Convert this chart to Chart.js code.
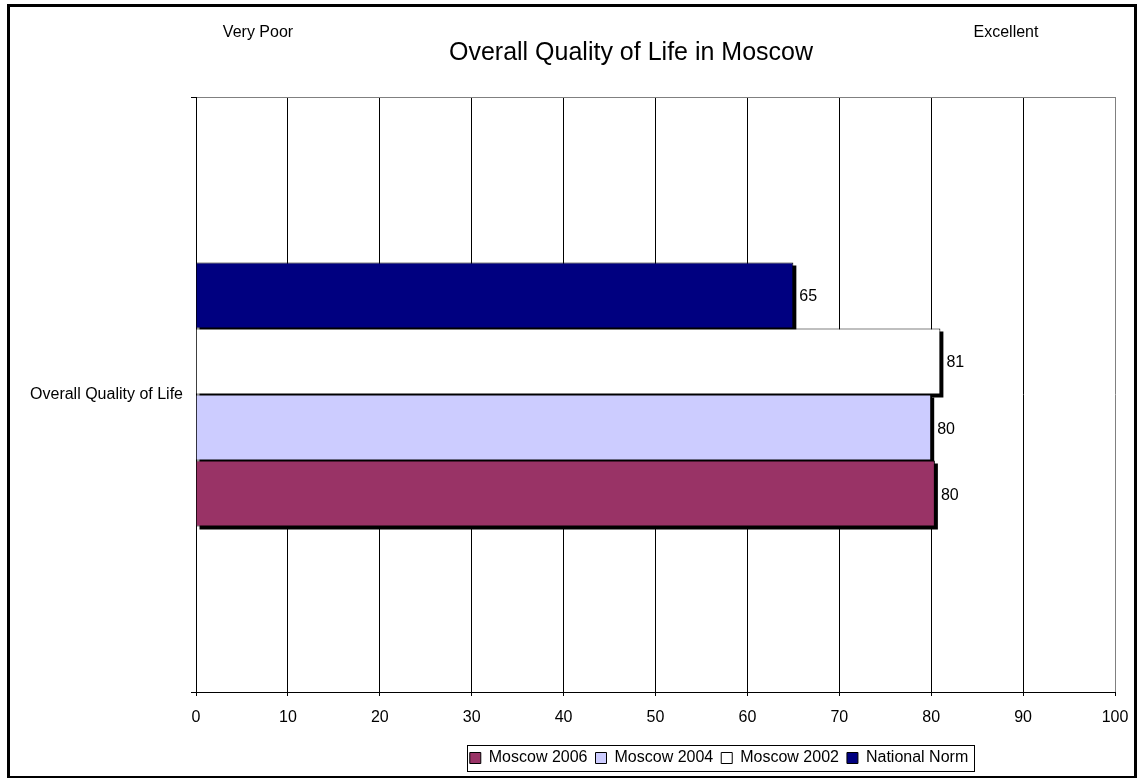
<!DOCTYPE html>
<html>
<head>
<meta charset="utf-8">
<title>Overall Quality of Life in Moscow</title>
<script src="https://cdn.jsdelivr.net/npm/chart.js@4.4.1/dist/chart.umd.min.js"></script>
<style>
  body { margin: 0; background: #ffffff; }
  canvas { display: block; }
</style>
</head>
<body>
<canvas id="qolChart" width="1137" height="778"></canvas>
<script>
const qolCanvas = document.getElementById("qolChart");

// data
const categories = ["Overall Quality of Life"];
const nationalNorm = [65];
const moscow2002 = [81];
const moscow2004 = [80];
const moscow2006 = [80.4];
const xTickValues = [0, 10, 20, 30, 40, 50, 60, 70, 80, 90, 100];

const titleText = "Overall Quality of Life in Moscow";
const lowEndText = "Very Poor";
const highEndText = "Excellent";

Chart.defaults.font.family = "'Liberation Sans', Arial, sans-serif";
Chart.defaults.font.size = 16;
Chart.defaults.color = "#000000";

const outlineColor = "#000000";
const frameGrey = "#808080";
const shadowOffset = 3;

// black drop shadow behind every bar (Excel style)
const barShadow = {
  id: "barShadow",
  beforeDatasetsDraw(chart) {
    const ctx = chart.ctx;
    ctx.save();
    ctx.fillStyle = "#000000";
    chart.data.datasets.forEach((ds, i) => {
      chart.getDatasetMeta(i).data.forEach((bar) => {
        const top = bar.y - bar.height / 2;
        ctx.fillRect(bar.base + shadowOffset, top + shadowOffset, bar.x - bar.base, bar.height);
      });
    });
    ctx.restore();
  },
};

// value printed right of each bar
const valueLabels = {
  id: "valueLabels",
  afterDatasetsDraw(chart) {
    const ctx = chart.ctx;
    ctx.save();
    ctx.font = "16px 'Liberation Sans', Arial, sans-serif";
    ctx.fillStyle = "#000000";
    ctx.textAlign = "left";
    ctx.textBaseline = "alphabetic";
    chart.data.datasets.forEach((ds, i) => {
      chart.getDatasetMeta(i).data.forEach((bar, j) => {
        ctx.fillText(String(Math.round(ds.data[j])), bar.x + 6, bar.y + 6);
      });
    });
    ctx.restore();
  },
};

// title, end captions, legend frame and outer frame
const decorations = {
  id: "decorations",
  afterLayout(chart) {
    // legend sits right of centre in the original
    const lg = chart.legend;
    if (!lg) return;
    const shift = 719 - (lg.left + lg.right) / 2;
    lg.left += shift;
    lg.right += shift;
  },
  afterDraw(chart) {
    const ctx = chart.ctx;
    ctx.save();
    ctx.fillStyle = "#000000";
    ctx.textBaseline = "alphabetic";
    ctx.textAlign = "center";
    ctx.font = "25px 'Liberation Sans', Arial, sans-serif";
    ctx.fillText(titleText, 631, 60);
    ctx.font = "16px 'Liberation Sans', Arial, sans-serif";
    ctx.fillText(lowEndText, 258, 37);
    ctx.fillText(highEndText, 1006, 37);

    // box round the legend
    const hb = chart.legend.legendHitBoxes;
    if (hb && hb.length) {
      const l = Math.min(...hb.map((h) => h.left)) - 3;
      const r = Math.max(...hb.map((h) => h.left + h.width)) + 6;
      const cy = hb[0].top + hb[0].height / 2;
      ctx.strokeStyle = "#000000";
      ctx.lineWidth = 1;
      ctx.strokeRect(Math.round(l) + 0.5, Math.round(cy - 13) + 0.5, Math.round(r - l), 26);
    }

    // outer chart frame
    ctx.lineWidth = 3;
    ctx.strokeStyle = "#000000";
    ctx.strokeRect(8.5, 5.5, 1127, 772);
    ctx.restore();
  },
};

const qolChart = new Chart(qolCanvas, {
  type: "bar",
  data: {
    labels: categories,
    datasets: [
      {
        label: "National Norm",
        data: nationalNorm,
        backgroundColor: "#000080",
        borderColor: outlineColor,
        borderWidth: 1,
      },
      {
        label: "Moscow 2002",
        data: moscow2002,
        backgroundColor: "#FFFFFF",
        borderColor: outlineColor,
        borderWidth: 1,
      },
      {
        label: "Moscow 2004",
        data: moscow2004,
        backgroundColor: "#CCCCFF",
        borderColor: outlineColor,
        borderWidth: 1,
      },
      {
        label: "Moscow 2006",
        data: moscow2006,
        backgroundColor: "#993366",
        borderColor: outlineColor,
        borderWidth: 1,
      },
    ],
  },
  options: {
    indexAxis: "y",
    responsive: false,
    animation: false,
    categoryPercentage: 0.4437,
    barPercentage: 1,
    layout: {
      padding: { top: 97, left: 26, right: 22, bottom: 2 },
    },
    scales: {
      x: {
        min: 0,
        max: 100,
        afterBuildTicks: (scale) => {
          scale.ticks = xTickValues.map((v) => ({ value: v }));
        },
        afterFit: (scale) => {
          scale.height = 50;
          scale.paddingLeft = 0;
          scale.paddingRight = 0;
        },
        ticks: {
          padding: 12,
          color: "#000000",
          font: { size: 16 },
        },
        grid: {
          color: (c) => (c.tick && c.tick.value === 100 ? frameGrey : "#000000"),
          tickColor: "#000000",
          tickLength: 4,
          lineWidth: 1,
        },
        border: {
          color: "#000000",
          width: 1,
        },
      },
      y: {
        afterFit: (scale) => {
          scale.width = 170;
        },
        ticks: {
          padding: 8,
          color: "#000000",
          font: { size: 16 },
        },
        grid: {
          offset: true,
          color: frameGrey,
          tickColor: "#000000",
          tickLength: 5,
        },
        border: {
          color: "#000000",
          width: 1,
        },
      },
    },
    plugins: {
      title: { display: false },
      tooltip: { enabled: false },
      legend: {
        display: true,
        position: "bottom",
        reverse: true,
        labels: {
          boxWidth: 11,
          boxHeight: 11,
          padding: 8,
          color: "#000000",
          font: { size: 16 },
        },
      },
    },
  },
  plugins: [barShadow, valueLabels, decorations],
});
</script>
</body>
</html>
